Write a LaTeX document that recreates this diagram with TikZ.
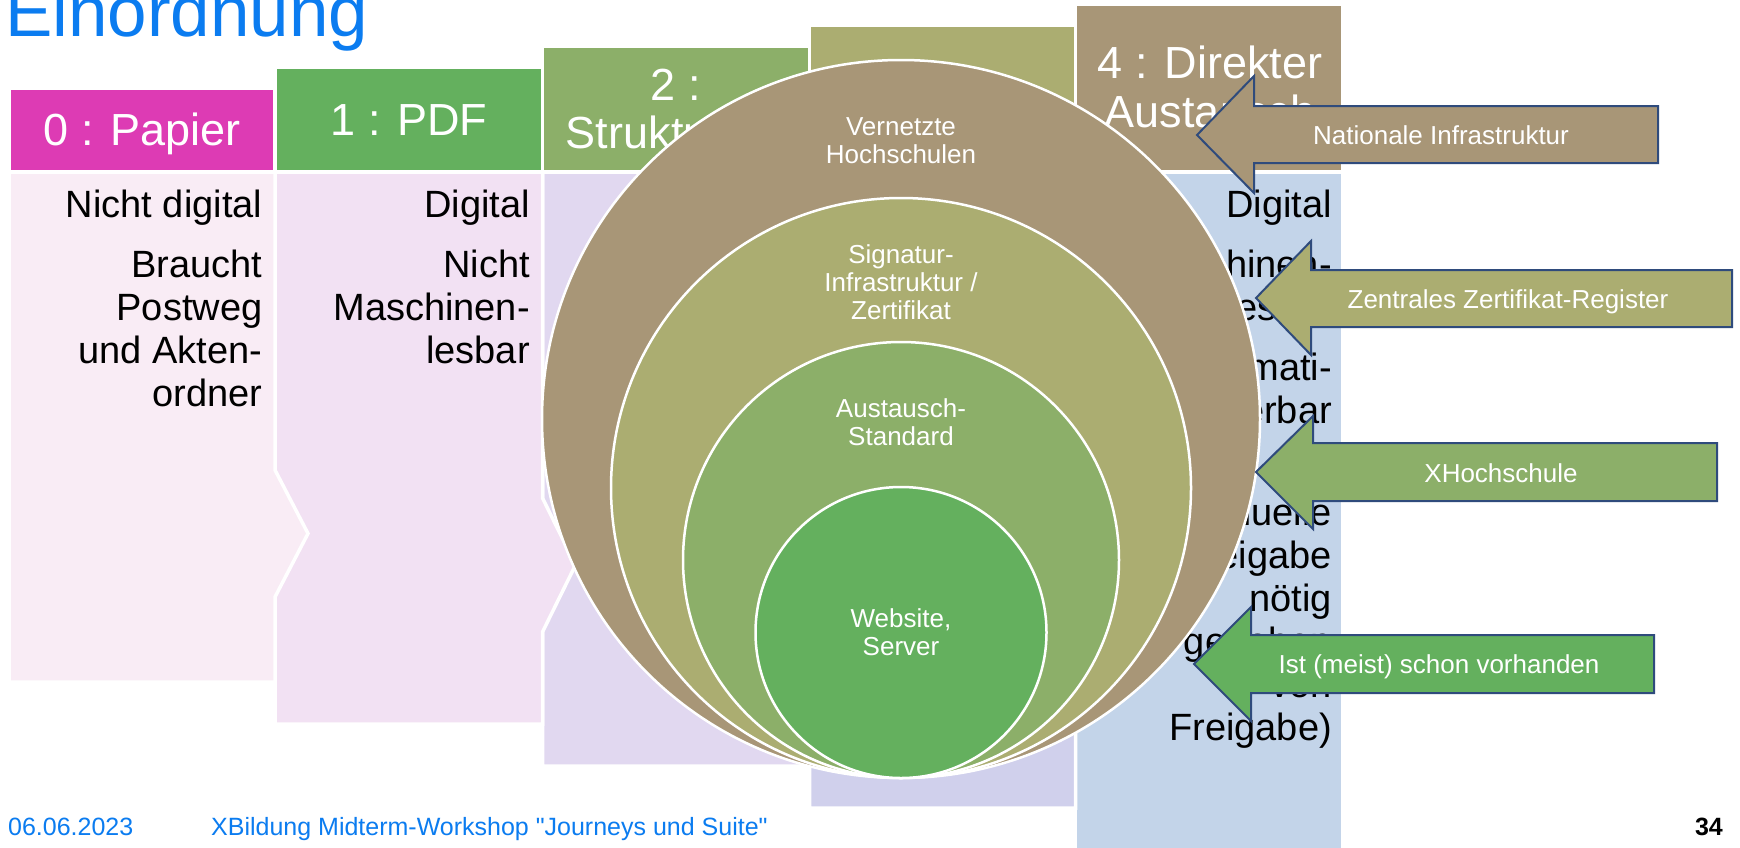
\documentclass[tikz,border=0pt]{standalone}
\usepackage{fontspec}
\setmainfont{Liberation Sans}[Ligatures=TeXOff]
\definecolor{ttl}{HTML}{0B7CF0}
\definecolor{mag}{HTML}{DD3BB4}
\definecolor{gA}{HTML}{64B05E}
\definecolor{gB}{HTML}{8CAF69}
\definecolor{olv}{HTML}{ABAD71}
\definecolor{brn}{HTML}{A89677}
\definecolor{bdA}{HTML}{F9ECF5}
\definecolor{bdB}{HTML}{F2E1F3}
\definecolor{bdC}{HTML}{E1D8F0}
\definecolor{bdD}{HTML}{D0D0EC}
\definecolor{bdE}{HTML}{C3D4E9}
\definecolor{navy}{HTML}{2F4B7C}
\begin{document}
\begin{tikzpicture}[x=1pt,y=-1pt,
  hdr/.style={text=white,font=\fontsize{45}{50}\selectfont,anchor=base,inner sep=0pt},
  btxt/.style={text=black,font=\fontsize{38}{43}\selectfont,anchor=base east,inner sep=0pt},
  ctxt/.style={text=white,font=\fontsize{26}{28}\selectfont,anchor=base,inner sep=0pt},
  atxt/.style={text=white,font=\fontsize{26}{28}\selectfont,anchor=base,inner sep=0pt},
  ftxt/.style={text=ttl,font=\fontsize{25}{28}\selectfont,anchor=base west,inner sep=0pt},
  seam/.style={draw=white,line width=3.5pt,line join=miter},
  ring/.style={draw=white,line width=2.5pt},
  harrow/.style={draw=navy,line width=2pt,line join=miter}]
\useasboundingbox (0,0) rectangle (1740,847);
\fill[white] (0,0) rectangle (1740,847);
% bodies (right to left so each chevron point lies on top)
\path[seam,fill=bdE] (1075.5,172) rectangle (1343,860);
\path[seam,fill=bdD] (809.5,172) -- (1075.5,172) -- (1075.5,544) -- (1108.5,623.5) -- (1075.5,703) -- (1075.5,808) -- (809.5,808) -- cycle;
\path[seam,fill=bdC] (542.5,172) -- (809.5,172) -- (809.5,520) -- (842.5,594) -- (809.5,668) -- (809.5,766) -- (542.5,766) -- cycle;
\path[seam,fill=bdB] (275,172) -- (542.5,172) -- (542.5,498) -- (575.5,565) -- (542.5,632) -- (542.5,724) -- (275,724) -- cycle;
\path[seam,fill=bdA] (9,172) -- (275,172) -- (275,470) -- (308,533.5) -- (275,597) -- (275,682) -- (9,682) -- cycle;
% headers
\path[seam,fill=mag] (9,88) rectangle (275,172);
\path[seam,fill=gA] (275,67) rectangle (542.5,172);
\path[seam,fill=gB] (542.5,46) rectangle (809.5,172);
\path[seam,fill=olv] (809.5,25) rectangle (1075.5,172);
\path[seam,fill=brn] (1075.5,4) rectangle (1343,172);
% header texts
\node[hdr] (h0) at (142,145) {0 : Papier};
\node[hdr] (h1) at (409,135) {1 : PDF};
\node[hdr] (h2a) at (676,100) {2 :};
\node[hdr] (h2b) at (676,148) {Strukturiert};
\node[hdr] (h4a) at (1210,78) {4 : Direkter};
\node[hdr] (h4b) at (1210,127) {Austausch};
% body texts
\node[btxt] (a1) at (262.5,217) {Nicht digital};
\node[btxt] (a2) at (262.5,277) {Braucht};
\node[btxt] (a3) at (262.5,320) {Postweg};
\node[btxt] (a4) at (262.5,363) {und Akten-};
\node[btxt] (a5) at (262.5,406) {ordner};
\node[btxt] (b1) at (530,217) {Digital};
\node[btxt] (b2) at (530,277) {Nicht};
\node[btxt] (b3) at (530,320) {Maschinen-};
\node[btxt] (b4) at (530,363) {lesbar};
\node[btxt] (e1) at (1332,217) {Digital};
\node[btxt] (e2) at (1332,277) {Maschinen-};
\node[btxt] (e3) at (1332,320) {lesbar};
\node[btxt] (e4) at (1332,380) {Automati-};
\node[btxt] (e5) at (1332,423) {sierbar};
\node[btxt] (e6) at (1332,525) {manuelle};
\node[btxt] (e7) at (1332,568) {Freigabe};
\node[btxt] (e8) at (1332,611) {nötig};
\node[btxt] (e9) at (1332,654) {gegeben};
\node[btxt] (e10) at (1332,697) {von};
\node[btxt] (e11) at (1332,740) {Freigabe)};
% nested circles
\path[ring,fill=brn] (901,419) circle[radius=359];
\path[ring,fill=olv] (901,488) circle[radius=290];
\path[ring,fill=gB] (901,560) circle[radius=218];
\path[ring,fill=gA] (901,632.5) circle[radius=145.5];
\node[ctxt] (c1a) at (901,135) {Vernetzte};
\node[ctxt] (c1b) at (901,163) {Hochschulen};
\node[ctxt] (c2a) at (901,263) {Signatur-};
\node[ctxt] (c2b) at (901,291) {Infrastruktur /};
\node[ctxt] (c2c) at (901,319) {Zertifikat};
\node[ctxt] (c3a) at (901,417) {Austausch-};
\node[ctxt] (c3b) at (901,445) {Standard};
\node[ctxt] (c4a) at (901,627) {Website,};
\node[ctxt] (c4b) at (901,655) {Server};
% arrows
\path[harrow,fill=brn] (1197,135) -- (1254,76) -- (1254,106) -- (1658,106) -- (1658,163) -- (1254,163) -- (1254,193) -- cycle;
\path[harrow,fill=olv] (1256,298) -- (1311,241) -- (1311,270) -- (1732,270) -- (1732,327) -- (1311,327) -- (1311,355) -- cycle;
\path[harrow,fill=gB] (1256,472) -- (1313,416) -- (1313,443) -- (1717,443) -- (1717,501) -- (1313,501) -- (1313,529) -- cycle;
\path[harrow,fill=gA] (1194,664) -- (1251,607) -- (1251,635) -- (1654,635) -- (1654,693) -- (1251,693) -- (1251,721) -- cycle;
\node[atxt] (r1) at (1441,144) {Nationale Infrastruktur};
\node[atxt] (r2) at (1508,308) {Zentrales Zertifikat-Register};
\node[atxt] (r3) at (1501,482) {XHochschule};
\node[atxt] (r4) at (1439,673) {Ist (meist) schon vorhanden};
% title and footer
\node[anchor=base west,inner sep=0pt,text=ttl,font=\fontsize{71}{80}\selectfont] (title) at (5,36) {Einordnung};
\node[ftxt] (date) at (8,835) {06.06.2023};
\node[ftxt] (event) at (211,835) {XBildung Midterm-Workshop "Journeys und Suite"};
\node[anchor=base east,inner sep=0pt,font=\fontsize{25}{28}\selectfont\bfseries] (page) at (1723,835) {34};
\end{tikzpicture}
\end{document}
